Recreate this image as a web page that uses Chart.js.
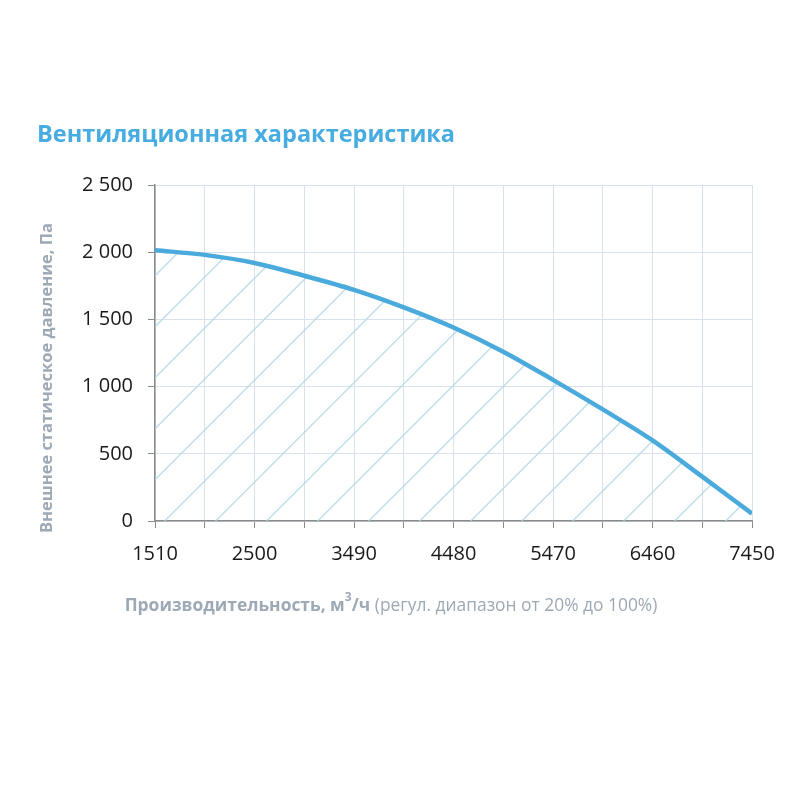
<!DOCTYPE html>
<html>
<head>
<meta charset="utf-8">
<script src="https://cdn.jsdelivr.net/npm/chart.js@4/dist/chart.umd.min.js"></script>
<style>
  html, body { margin: 0; padding: 0; background: #fff; }
  #wrap { width: 800px; height: 800px; }
</style>
</head>
<body>
<div id="wrap"><canvas id="chart" width="800" height="800"></canvas></div>
<script>
(function() {

    // airflow, m3/h
    var flow = [1510, 2005, 2500, 2995, 3490, 3985, 4480, 4975, 5470, 5965, 6460, 6955, 7450];
    // external static pressure, Pa
    var pressure = [2015, 1980, 1920, 1825, 1720, 1590, 1440, 1260, 1050, 830, 600, 330, 55];

    var xTicks = [1510, 2005, 2500, 2995, 3490, 3985, 4480, 4975, 5470, 5965, 6460, 6955, 7450];
    var xTickLabels = ['1510', '', '2500', '', '3490', '', '4480', '', '5470', '', '6460', '', '7450'];
    var yTicks = [0, 500, 1000, 1500, 2000, 2500];
    var yTickLabels = ['0', '500', '1 000', '1 500', '2 000', '2 500'];

    var chartTitle = 'Вентиляционная характеристика';
    var yTitle = 'Внешнее статическое давление, Па';
    var xTitleBold = 'Производительность, м';
    var xTitleSup = '3';
    var xTitleBold2 = '/ч';
    var xTitleRest = ' (регул. диапазон от 20% до 100%)';

    var font = '"Open Sans", "DejaVu Sans", sans-serif';
    var grey = '#9da9b5';

    // hatch pattern for area under curve
    function makeHatch() {
        var tile = document.createElement('canvas');
        tile.width = 51;
        tile.height = 51;
        var c = tile.getContext('2d');
        c.strokeStyle = 'rgba(175, 214, 226, 0.8)';
        c.lineWidth = 1.4;
        for (var k = -1; k <= 2; k++) {
            var s = 22.7 + 51 * k;
            c.beginPath();
            c.moveTo(s - 70, 70);
            c.lineTo(s + 20, -20);
            c.stroke();
        }
        return c.createPattern(tile, 'repeat');
    }

    var points = [];
    for (var i = 0; i < flow.length; i++) {
        points.push({ x: flow[i], y: pressure[i] });
    }

    var textPlugin = {
        id: 'texts',
        afterDraw: function(chart) {
            var ctx = chart.ctx;
            ctx.save();

            // main title
            ctx.fillStyle = '#47ace0';
            ctx.font = 'bold 23.5px ' + font;
            ctx.textAlign = 'left';
            ctx.textBaseline = 'middle';
            ctx.fillText(chartTitle, 37, 135);

            // y title
            ctx.save();
            ctx.translate(47, 378);
            ctx.rotate(-Math.PI / 2);
            ctx.fillStyle = grey;
            ctx.font = 'bold 16.5px ' + font;
            ctx.textAlign = 'center';
            ctx.fillText(yTitle, 0, 0);
            ctx.restore();

            // x title, mixed weights
            var bold = 'bold 17.4px ' + font;
            var normal = '17.4px ' + font;
            var sup = 'bold 12px ' + font;
            ctx.font = bold;
            var w1 = ctx.measureText(xTitleBold).width;
            var w3 = ctx.measureText(xTitleBold2).width;
            ctx.font = sup;
            var w2 = ctx.measureText(xTitleSup).width;
            ctx.font = normal;
            var w4 = ctx.measureText(xTitleRest).width;
            var x = 391 - (w1 + w2 + w3 + w4) / 2;
            var y = 606;
            ctx.fillStyle = grey;
            ctx.textAlign = 'left';
            ctx.font = bold;
            ctx.fillText(xTitleBold, x, y);
            ctx.font = sup;
            ctx.fillText(xTitleSup, x + w1, y - 8);
            ctx.font = bold;
            ctx.fillText(xTitleBold2, x + w1 + w2, y);
            ctx.font = normal;
            ctx.fillText(xTitleRest, x + w1 + w2 + w3, y);

            ctx.restore();
        }
    };

    var ctx = document.getElementById('chart').getContext('2d');

    new Chart(ctx, {
        type: 'line',
        data: {
            datasets: [{
                data: points,
                borderColor: '#4aaadc',
                borderWidth: 4.5,
                backgroundColor: makeHatch(),
                fill: 'origin',
                pointRadius: 0,
                cubicInterpolationMode: 'monotone'
            }]
        },
        options: {
            responsive: false,
            animation: false,
            devicePixelRatio: 1,
            layout: {
                padding: { left: 0, right: 48, top: 185, bottom: 219 }
            },
            plugins: {
                legend: { display: false },
                tooltip: { enabled: false }
            },
            scales: {
                x: {
                    type: 'linear',
                    min: 1510,
                    max: 7450,
                    afterBuildTicks: function(scale) {
                        scale.ticks = xTicks.map(function(v) { return { value: v }; });
                    },
                    afterFit: function(scale) { scale.height = 60; },
                    grid: {
                        color: '#d8e2ee',
                        lineWidth: 1,
                        tickColor: '#8a8a8a',
                        tickLength: 7
                    },
                    border: { color: '#8a8a8a', width: 1.5 },
                    ticks: {
                        autoSkip: false,
                        maxRotation: 0,
                        padding: 14,
                        color: '#1a1a1a',
                        font: { family: font, size: 20 },
                        callback: function(value) {
                            var idx = xTicks.indexOf(value);
                            return idx >= 0 ? xTickLabels[idx] : '';
                        }
                    }
                },
                y: {
                    min: 0,
                    max: 2500,
                    afterBuildTicks: function(scale) {
                        scale.ticks = yTicks.map(function(v) { return { value: v }; });
                    },
                    afterFit: function(scale) { scale.width = 155; },
                    grid: {
                        color: '#d8e2ee',
                        lineWidth: 1,
                        tickColor: '#8a8a8a',
                        tickLength: 7
                    },
                    border: { color: '#8a8a8a', width: 1.5 },
                    ticks: {
                        padding: 15,
                        color: '#1a1a1a',
                        font: { family: font, size: 20 },
                        callback: function(value) {
                            var idx = yTicks.indexOf(value);
                            return idx >= 0 ? yTickLabels[idx] : '';
                        }
                    }
                }
            }
        },
        plugins: [textPlugin]
    });

})();
</script>
</body>
</html>
